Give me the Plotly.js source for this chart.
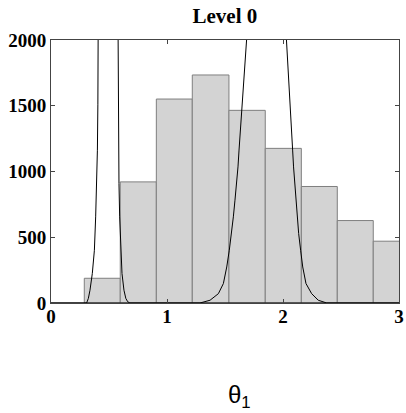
<!DOCTYPE html>
<html>
<head>
<meta charset="utf-8">
<script src="https://cdn.plot.ly/plotly-3.0.1.min.js"></script>
<style>html,body{margin:0;padding:0;background:#fff;}#chart{width:406px;height:413px;}</style>
</head>
<body>
<div id="chart"></div>
<script>
// Histogram bin edges and counts
const binEdges = [0.287, 0.597, 0.908, 1.218, 1.534, 1.847, 2.158, 2.468, 2.778, 3.089];
const counts = [188, 921, 1551, 1734, 1465, 1176, 886, 627, 470];

// First density curve (peak goes off the chart)
const curve1X = [0, 0.307, 0.322, 0.336, 0.356, 0.374, 0.385, 0.394, 0.400, 0.404, 0.408, 0.43, 0.4885, 0.547, 0.578, 0.580, 0.582, 0.586, 0.592, 0.601, 0.612, 0.629, 0.645, 0.661, 0.68, 3];
const curve1Y = [0, 0, 35, 97, 224, 401, 655, 909, 1162, 1507, 2000, 6700, 20000, 6700, 2000, 1507, 1162, 909, 655, 401, 224, 97, 35, 10, 0, 0];

// Second density curve
const curve2X = [0, 1.284, 1.371, 1.443, 1.486, 1.515, 1.537, 1.557, 1.572, 1.586, 1.601, 1.612, 1.621, 1.649, 1.678, 1.75, 1.852, 1.95, 2.026, 2.055, 2.083, 2.091, 2.101, 2.112, 2.124, 2.135, 2.152, 2.170, 2.198, 2.247, 2.304, 2.377, 3];
const curve2Y = [0, 0, 21, 71, 148, 274, 401, 528, 655, 782, 909, 1035, 1163, 1584, 2000, 3255, 4137, 3255, 2000, 1584, 1163, 1035, 909, 782, 655, 528, 401, 274, 148, 71, 21, 0, 0];

const yTicks = [0, 500, 1000, 1500, 2000];
const xTicks = [0, 1, 2, 3];

const centers = counts.map((_, i) => (binEdges[i] + binEdges[i + 1]) / 2);
const widths = counts.map((_, i) => binEdges[i + 1] - binEdges[i]);

const data = [
  {type: 'bar', x: centers, y: counts, width: widths,
   marker: {color: '#d3d3d3', line: {color: '#7f7f7f', width: 1}},
   hoverinfo: 'skip', showlegend: false},
  {type: 'scatter', mode: 'lines', x: curve1X, y: curve1Y,
   line: {color: '#000', width: 1}, showlegend: false},
  {type: 'scatter', mode: 'lines', x: curve2X, y: curve2Y,
   line: {color: '#000', width: 1}, showlegend: false}
];

const tickFont = {family: '"Liberation Serif", "Times New Roman", serif', size: 19, color: '#000'};

const layout = {
  width: 406, height: 413,
  margin: {l: 51, r: 7, t: 40, b: 110},
  paper_bgcolor: '#fff', plot_bgcolor: '#fff',
  bargap: 0,
  title: {text: '<b>Level 0</b>', x: 0.554, xanchor: 'center', y: 0.962, yanchor: 'middle',
          font: {family: '"Liberation Serif", "Times New Roman", serif', size: 21, color: '#000'}},
  xaxis: {range: [0, 3], tickvals: xTicks, ticktext: xTicks.map(v => '<b>' + v + '</b>'),
          showgrid: false, zeroline: false, showline: true, mirror: 'ticks',
          linecolor: '#444', linewidth: 1, ticks: 'inside', ticklen: 4, tickcolor: '#444',
          ticklabelstandoff: -4,
          tickfont: tickFont},
  yaxis: {range: [0, 2000], tickvals: yTicks, ticktext: yTicks.map(v => '<b>' + v + '</b>'),
          showgrid: false, zeroline: false, showline: true, mirror: 'ticks',
          linecolor: '#444', linewidth: 1, ticks: 'inside', ticklen: 4, tickcolor: '#444',
          tickfont: tickFont},
  annotations: [{text: 'θ<sub>1</sub>', xref: 'paper', yref: 'paper', x: 0.543, y: -0.355,
                 xanchor: 'center', yanchor: 'middle', showarrow: false,
                 font: {family: '"Liberation Sans", Arial, sans-serif', size: 24, color: '#000'}}]
};

Plotly.newPlot('chart', data, layout, {staticPlot: true, displayModeBar: false});
</script>
</body>
</html>
